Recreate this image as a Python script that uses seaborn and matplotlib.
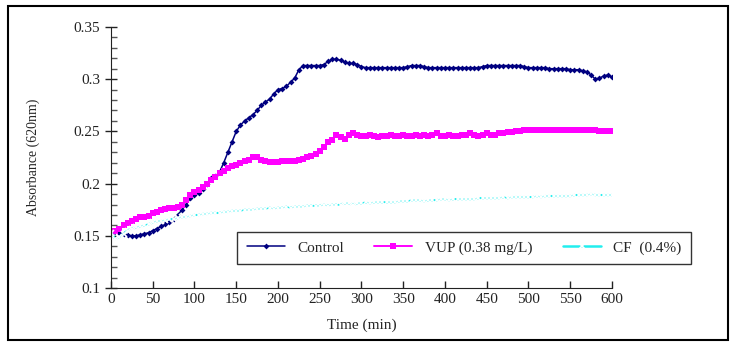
# Absorbance (620 nm) over time for Control, VUP and CF
import seaborn as sns
import matplotlib
import matplotlib.pyplot as plt
from matplotlib.patches import Rectangle
from matplotlib.ticker import MultipleLocator, FuncFormatter

matplotlib.use("Agg")

time_min = list(range(0, 601, 5))

control = [
    0.153, 0.154, 0.153, 0.152, 0.151, 0.150, 0.150, 0.151, 0.152, 0.153,
    0.155, 0.157, 0.159, 0.161, 0.163, 0.166, 0.170, 0.175, 0.180, 0.186,
    0.189, 0.191, 0.195, 0.200, 0.205, 0.207, 0.211, 0.220, 0.230, 0.240,
    0.250, 0.256, 0.260, 0.263, 0.266, 0.270, 0.275, 0.278, 0.281, 0.286,
    0.290, 0.291, 0.293, 0.297, 0.301, 0.309, 0.313, 0.313, 0.313, 0.313,
    0.313, 0.314, 0.317, 0.319, 0.319, 0.318, 0.316, 0.315, 0.315, 0.314,
    0.312, 0.311, 0.311, 0.311, 0.311, 0.311, 0.311, 0.311, 0.311, 0.311,
    0.311, 0.312, 0.313, 0.313, 0.313, 0.312, 0.311, 0.311, 0.311, 0.311,
    0.311, 0.311, 0.311, 0.311, 0.311, 0.311, 0.311, 0.311, 0.311, 0.312,
    0.313, 0.313, 0.313, 0.313, 0.313, 0.313, 0.313, 0.313, 0.313, 0.312,
    0.311, 0.311, 0.311, 0.311, 0.311, 0.310, 0.310, 0.310, 0.310, 0.310,
    0.309, 0.309, 0.309, 0.308, 0.307, 0.304, 0.300, 0.301, 0.303, 0.304,
    0.302,
]

vup = [
    0.153, 0.155, 0.157, 0.160, 0.162, 0.164, 0.166, 0.168, 0.168, 0.169,
    0.172, 0.173, 0.175, 0.176, 0.177, 0.177, 0.178, 0.180, 0.184, 0.189,
    0.192, 0.194, 0.197, 0.200, 0.203, 0.206, 0.210, 0.212, 0.215, 0.217,
    0.218, 0.220, 0.222, 0.223, 0.225, 0.225, 0.223, 0.222, 0.221, 0.221,
    0.221, 0.222, 0.222, 0.222, 0.222, 0.223, 0.224, 0.225, 0.226, 0.228,
    0.231, 0.235, 0.240, 0.242, 0.247, 0.245, 0.243, 0.247, 0.248, 0.247,
    0.246, 0.246, 0.247, 0.246, 0.245, 0.246, 0.246, 0.247, 0.246, 0.246,
    0.247, 0.246, 0.246, 0.247, 0.246, 0.247, 0.246, 0.247, 0.248, 0.246,
    0.246, 0.247, 0.246, 0.246, 0.247, 0.247, 0.248, 0.247, 0.246, 0.247,
    0.248, 0.247, 0.247, 0.248, 0.248, 0.249, 0.249, 0.250, 0.250, 0.251,
    0.251, 0.251, 0.251, 0.251, 0.251, 0.251, 0.251, 0.251, 0.251, 0.251,
    0.251, 0.251, 0.251, 0.251, 0.251, 0.251, 0.251, 0.250, 0.250, 0.250,
    0.250,
]

cf = [
    0.153, 0.147, 0.149, 0.152, 0.155, 0.157, 0.158, 0.159, 0.160, 0.161,
    0.163, 0.164, 0.164, 0.165, 0.166, 0.166, 0.167, 0.168, 0.168, 0.169,
    0.170, 0.170, 0.171, 0.171, 0.172, 0.172, 0.172, 0.173, 0.173, 0.174,
    0.174, 0.174, 0.175, 0.175, 0.175, 0.176, 0.176, 0.176, 0.177, 0.176,
    0.177, 0.177, 0.178, 0.177, 0.178, 0.178, 0.178, 0.179, 0.179, 0.179,
    0.179, 0.180, 0.179, 0.180, 0.180, 0.180, 0.181, 0.181, 0.180, 0.181,
    0.181, 0.182, 0.181, 0.182, 0.182, 0.182, 0.182, 0.182, 0.182, 0.183,
    0.183, 0.183, 0.184, 0.184, 0.184, 0.183, 0.184, 0.184, 0.184, 0.185,
    0.185, 0.184, 0.185, 0.185, 0.185, 0.185, 0.185, 0.185, 0.186, 0.186,
    0.186, 0.186, 0.186, 0.186, 0.187, 0.186, 0.187, 0.187, 0.187, 0.187,
    0.187, 0.187, 0.188, 0.187, 0.188, 0.188, 0.188, 0.188, 0.188, 0.188,
    0.188, 0.189, 0.189, 0.189, 0.189, 0.190, 0.189, 0.189, 0.189, 0.189,
    0.189,
]

sns.set_style("ticks")
plt.rcParams["font.family"] = ["Liberation Serif", "DejaVu Serif"]

fig = plt.figure(figsize=(7.4, 3.45), dpi=100)
ax = fig.add_axes([0.150, 0.165, 0.677, 0.757])

sns.lineplot(x=time_min, y=control, ax=ax, color="#000080", linewidth=1.1,
             marker="D", markersize=3, markeredgewidth=0, label="Control")
sns.lineplot(x=time_min, y=vup, ax=ax, color="#FF00FF", linewidth=1.4,
             marker="s", markersize=4, markeredgewidth=0, label="VUP (0.38 mg/L)")
sns.lineplot(x=time_min, y=cf, ax=ax, color="#22EEEE", linewidth=1.8,
             marker="x", markersize=4, markeredgewidth=1.2, label="CF  (0.4%)")

ax.set_xlim(0, 600)
ax.set_ylim(0.1, 0.35)
ax.xaxis.set_major_locator(MultipleLocator(50))
ax.yaxis.set_major_locator(MultipleLocator(0.05))
ax.yaxis.set_minor_locator(MultipleLocator(0.01))
ax.yaxis.set_major_formatter(FuncFormatter(lambda v, p: f"{v:g}"))

ax.tick_params(axis="y", which="major", direction="inout", length=9, width=1,
               labelsize=11, colors="#222222")
ax.tick_params(axis="y", which="minor", direction="in", length=4, width=1,
               colors="#555555")
ax.tick_params(axis="x", which="major", direction="in", length=5, width=1,
               labelsize=11, colors="#222222")
sns.despine(ax=ax)
for s in ["left", "bottom"]:
    ax.spines[s].set_color("#222222")

ax.set_xlabel("Time (min)", fontsize=11, labelpad=9)
ax.set_ylabel("Absorbance (620nm)", fontsize=10, labelpad=24)

ax.get_legend().remove()
h, l = ax.get_legend_handles_labels()
leg = fig.legend(h, l, loc="center", bbox_to_anchor=(464 / 740, 1 - 248 / 345),
                 ncol=3, frameon=True, fancybox=False, fontsize=11,
                 handlelength=2.5, columnspacing=2.0, borderpad=0.6)
leg.get_frame().set_edgecolor("black")
leg.get_frame().set_linewidth(1)

# black border around the whole picture
fig.patches.append(Rectangle((8 / 740, 5 / 345), 720 / 740, 334 / 345,
                             transform=fig.transFigure, fill=False,
                             edgecolor="black", linewidth=1.5))

fig.savefig("out.png", dpi=100)
